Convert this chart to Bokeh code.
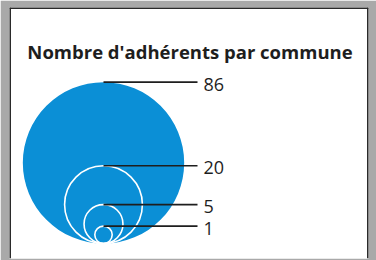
import numpy as np
from bokeh.plotting import figure
from bokeh.models import Range1d, ColumnDataSource, Span
from bokeh.core.properties import value
from bokeh.embed import file_html
from bokeh.resources import INLINE

# data
values = [86, 20, 5, 1]
labels = ["86", "20", "5", "1"]
title_text = "Nombre d'adhérents par commune"

# layout constants
W, H = 376, 260
BL, BR, BT, BB = 9, 8, 7, 2
FW, FH = W - BL - BR, H - BT - BB
cx = 94.0
bottom = 236.0
scale_k = 8.7
line_end = 188.0
label_x = 194.0

radii = scale_k * np.sqrt(np.array(values, dtype=float))
cy = bottom - radii
tops = bottom - 2 * radii

p = figure(width=W, height=H, output_backend="svg", toolbar_location=None,
           x_range=Range1d(0, FW), y_range=Range1d(FH, 0),
           min_border_left=BL, min_border_right=BR,
           min_border_top=BT, min_border_bottom=BB)
p.axis.visible = False
p.grid.visible = False
p.background_fill_color = "white"
p.border_fill_color = "#a9a9a9"
p.outline_line_color = None

for loc, dim in [(0, "height"), (FW, "height"), (0, "width")]:
    p.add_layout(Span(location=loc, dimension=dim, line_color="#2a2a2a", line_width=3))

src = ColumnDataSource(dict(x=[cx] * len(values), y=cy, r=radii, top=tops,
                            x1=[line_end] * len(values), lx=[label_x] * len(values),
                            label=labels))

# big filled circle
p.circle(x=[cx], y=[cy[0]], radius=[radii[0]], fill_color="#0b8fd6", line_color=None)
# nested outline circles
sub = ColumnDataSource(dict(x=[cx] * (len(values) - 1), y=cy[1:], r=radii[1:]))
p.circle(x="x", y="y", radius="r", source=sub, fill_color=None,
         line_color="white", line_width=1.6)

# leader lines
p.segment(x0="x", y0="top", x1="x1", y1="top", source=src,
          line_color="#1e1e1e", line_width=1.6)

# labels
p.text(x="lx", y="top", text="label", source=src, text_font=value("Open Sans"),
       text_font_size=value("18px"), text_baseline="middle", text_align="left",
       text_color="#1e1e1e", y_offset=2)

# title
p.text(x=[FW / 2 + 1], y=[44], text=[title_text], text_font=value("Open Sans"),
       text_font_size=value("18.5px"), text_font_style="bold",
       text_baseline="alphabetic", text_align="center", text_color="#1e1e1e")

open("out.html", "w").write(file_html(p, INLINE))
